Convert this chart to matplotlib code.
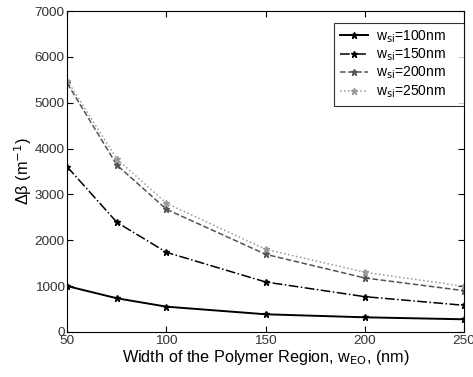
import matplotlib
matplotlib.use("Agg")
import matplotlib.pyplot as plt

plt.rcParams["font.family"] = ["Liberation Sans", "DejaVu Sans"]

widths = [50, 75, 100, 150, 200, 250]
dbeta_100 = [1000, 735, 552, 386, 320, 277]
dbeta_150 = [3600, 2391, 1737, 1090, 770, 582]
dbeta_200 = [5420, 3641, 2675, 1694, 1178, 901]
dbeta_250 = [5480, 3772, 2806, 1803, 1302, 996]

labels = ["w$_{\\rm si}$=100nm    ", "w$_{\\rm si}$=150nm    ",
          "w$_{\\rm si}$=200nm    ", "w$_{\\rm si}$=250nm    "]
styles = [
    dict(color="black", linestyle="-", linewidth=1.4),
    dict(color="black", linestyle="-.", linewidth=1.1),
    dict(color="#555555", linestyle="--", linewidth=1.1),
    dict(color="#999999", linestyle=":", linewidth=1.1),
]

fig = plt.figure(figsize=(4.73, 3.77), dpi=100)
ax = fig.add_axes([0.1423, 0.1194, 0.8387, 0.8514])

for series, label, style in zip([dbeta_100, dbeta_150, dbeta_200, dbeta_250], labels, styles):
    ax.plot(widths, series, marker="*", markersize=5, label=label, **style)

ax.set_xlim(50, 250)
ax.set_ylim(0, 7000)
ax.set_xticks([50, 100, 150, 200, 250])
ax.set_yticks(range(0, 7001, 1000))
ax.tick_params(direction="in", top=True, right=True, labelsize=9.7, colors="black",
               labelcolor="#333333", length=4, pad=2)
ax.set_xlabel("Width of the Polymer Region, w$_{\\rm EO}$, (nm)", fontsize=11.7, labelpad=1)
ax.set_ylabel("Δβ (m$^{-1}$)", fontsize=11.7, labelpad=0)

leg = ax.legend(loc="upper right", bbox_to_anchor=(1.0, 0.964), fontsize=10, frameon=True,
                fancybox=False, edgecolor="black", borderaxespad=0.0, handlelength=2.0,
                handletextpad=0.6, labelspacing=0.15, borderpad=0.4)
leg.get_frame().set_linewidth(0.8)

fig.savefig("out.png", dpi=100)
